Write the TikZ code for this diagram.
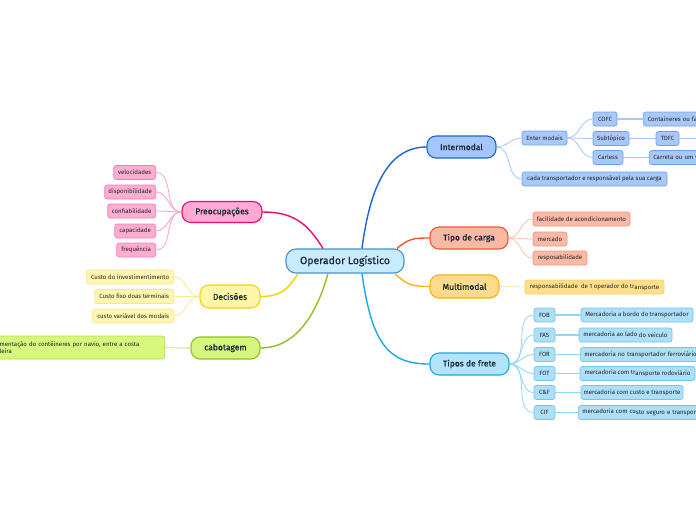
\documentclass[tikz,border=0pt]{standalone}
\usepackage{fontspec}
\setmainfont{Fira Sans}
\newfontfamily\medfont[FakeBold=0.5]{Fira Sans}
\definecolor{cfill}{HTML}{C9ECFC}
\definecolor{cdraw}{HTML}{4A90CF}
\definecolor{ctext}{HTML}{18254A}
\definecolor{bltext}{HTML}{15283A}
\definecolor{lftext}{HTML}{222222}
% blue (intermodal)
\definecolor{bMain}{HTML}{1A66D2}
\definecolor{bFill}{HTML}{A5C6FA}
\definecolor{bLeaf}{HTML}{A9C8FA}
\definecolor{bLeafD}{HTML}{6E9FEE}
\definecolor{bLine}{HTML}{A6C6F6}
% red (tipo de carga)
\definecolor{rMain}{HTML}{F2572A}
\definecolor{rFill}{HTML}{F8B9A6}
\definecolor{rLeafD}{HTML}{F5957A}
\definecolor{rLine}{HTML}{FBC2AE}
% orange (multimodal)
\definecolor{oMain}{HTML}{FBB117}
\definecolor{oFill}{HTML}{FEDB8A}
\definecolor{oLeaf}{HTML}{FEE08C}
\definecolor{oLeafD}{HTML}{FBCD66}
\definecolor{oLine}{HTML}{FDDFA0}
% cyan (frete)
\definecolor{cyMain}{HTML}{18A8EE}
\definecolor{cyFill}{HTML}{B3E4FB}
\definecolor{cyLeaf}{HTML}{ADDFF8}
\definecolor{cyLeafD}{HTML}{74C6EF}
\definecolor{cyLine}{HTML}{93D5F5}
% pink
\definecolor{pMain}{HTML}{EE0A70}
\definecolor{pFill}{HTML}{FFAAD2}
\definecolor{pLeaf}{HTML}{FDADD1}
\definecolor{pLeafD}{HTML}{F57DB6}
\definecolor{pLine}{HTML}{FB9FCB}
% yellow
\definecolor{yMain}{HTML}{F2D400}
\definecolor{yFill}{HTML}{FFF6A8}
\definecolor{yLeaf}{HTML}{FFF6B2}
\definecolor{yLeafD}{HTML}{F8E58A}
\definecolor{yLine}{HTML}{F9EA8E}
% green
\definecolor{gMain}{HTML}{8EC31C}
\definecolor{gFill}{HTML}{D5F57E}
\definecolor{gLeaf}{HTML}{D7F87C}
\definecolor{gLeafD}{HTML}{B3DD4C}
\definecolor{gLine}{HTML}{DDF0B0}
\newcommand{\lfont}{\fontsize{6.1}{7.6}\selectfont}
\newcommand{\bfontx}{\medfont\fontsize{8.5}{10}\selectfont}
\newcommand{\cfontx}{\medfont\fontsize{10.5}{12}\selectfont}
\newcommand{\lw}[1]{\raisebox{-1.2pt}{#1}}
\begin{document}
\begin{tikzpicture}[x=1pt,y=-1pt,
  cnode/.style={draw=cdraw, fill=cfill, text=ctext, line width=1.1pt, rounded corners=10pt, inner sep=0pt, font=\cfontx},
  bnode/.style={line width=1.1pt, rounded corners=9pt, inner sep=0pt, text=bltext, font=\bfontx},
  lnode/.style={line width=0.7pt, rounded corners=2.5pt, inner xsep=2pt, inner ysep=0pt, minimum height=14pt, text=lftext, font=\lfont},
  mline/.style={line width=1.4pt},
  sline/.style={line width=0.8pt},
  hline/.style={line width=1.6pt}
]
\useasboundingbox (0,0) rectangle (696,520);
\clip (0,0) rectangle (696,520);
\fill[white] (0,0) rectangle (696,520);

% ---------- central and main branches ----------
\node[cnode, minimum width=118pt, minimum height=24pt] (op) at (345,261) {Operador Logístico};

\node[bnode, draw=bMain, fill=bFill, minimum width=69pt, minimum height=22pt] (inter) at (461.5,147) {Intermodal};
\node[bnode, draw=rMain, fill=rFill, minimum width=78pt, minimum height=22pt] (carga) at (469,238) {Tipo de carga};
\node[bnode, draw=oMain, fill=oFill, minimum width=69pt, minimum height=23pt] (multi) at (464.5,286.5) {Multimodal};
\node[bnode, draw=cyMain, fill=cyFill, minimum width=79pt, minimum height=22pt] (frete) at (469.5,364) {Tipos de frete};
\node[bnode, draw=pMain, fill=pFill, minimum width=80pt, minimum height=21pt] (pre) at (222,212) {Preocupações};
\node[bnode, draw=yMain, fill=yFill, minimum width=60pt, minimum height=23pt] (dec) at (230,296.5) {Decisões};
\node[bnode, draw=gMain, fill=gFill, minimum width=69pt, minimum height=22pt] (cab) at (225.5,348) {cabotagem};

% main connectors
\draw[mline, bMain] ([xshift=17pt]op.north) .. controls +(8,-62) and +(-38,0) .. (inter.west);
\draw[mline, rMain] ([xshift=52pt]op.north) .. controls +(12,-10) and +(-16,0) .. (carga.west);
\draw[mline, oMain] ([xshift=50pt]op.south) .. controls +(12,12) and +(-16,0) .. (multi.west);
\draw[mline, cyMain] ([xshift=17pt]op.south) .. controls +(10,72) and +(-40,0) .. (frete.west);
\draw[mline, pMain] ([xshift=-22pt]op.north) .. controls +(-16,-26) and +(30,0) .. (pre.east);
\draw[mline, yMain] ([xshift=-47pt]op.south) .. controls +(-10,16) and +(20,0) .. (dec.east);
\draw[mline, gMain] ([xshift=-17pt]op.south) .. controls +(-14,50) and +(30,0) .. (cab.east);

% ---------- Intermodal ----------
\begin{scope}[every node/.style={lnode, draw=bLeafD, fill=bLeaf}]
\node[minimum width=45pt] (em) at (544.5,138) {Enter modais};
\node[minimum width=145pt] (cada) at (594.5,179) {cada transportador e responsável pela sua carga};
\node[minimum width=24pt] (cofc) at (605,119) {COFC};
\node[minimum width=36pt] (subt) at (611,138.5) {Subtópico};
\node[minimum width=30pt] (carl) at (608,157.5) {Carless};
\node[minimum width=23pt] (tofc) at (667.5,138.5) {TOFC};
\node[anchor=west, inner xsep=4.5pt, text width=80pt, align=left] (cont) at (643,119) {Containeres ou fa};
\node[anchor=west, inner xsep=4pt, text width=80pt, align=left] (carr) at (649,157.5) {Carreta ou um v};
\end{scope}
\coordinate (tofcend) at (700,138.5);
\draw[sline, bLine] (inter.east) to[out=0,in=180] (em.west);
\draw[sline, bLine] (inter.east) to[out=0,in=180] (cada.west);
\draw[sline, bLine] (em.east) to[out=0,in=180] (cofc.west);
\draw[sline, bLine] (em.east) to[out=0,in=180] (subt.west);
\draw[sline, bLine] (em.east) to[out=0,in=180] (carl.west);
\draw[hline, bLine] (cofc.east) -- (cont.west);
\draw[hline, bLine] (subt.east) -- (tofc.west);
\draw[hline, bLine] (tofc.east) -- (tofcend);
\draw[hline, bLine] (carl.east) -- (carr.west);

% ---------- Tipo de carga ----------
\begin{scope}[every node/.style={lnode, draw=rLeafD, fill=rFill}]
\node[minimum width=97pt] (fac) at (581.5,219) {facilidade de acondicionamento};
\node[minimum width=34pt] (merc) at (550,239) {mercado};
\node[minimum width=54pt] (resp) at (560,258) {resposabilidade};
\end{scope}
\draw[sline, rLine] (carga.east) to[out=0,in=180] (fac.west);
\draw[sline, rLine] (carga.east) to[out=0,in=180] (merc.west);
\draw[sline, rLine] (carga.east) to[out=0,in=180] (resp.west);

% ---------- Multimodal ----------
\node[lnode, draw=oLeafD, fill=oLeaf, minimum width=139pt] (mleaf) at (594.5,287) {responsabilidade\ \ de 1 operador do tr\lw{ansporte}};
\draw[sline, oLine] (multi.east) -- (mleaf.west);

% ---------- Tipos de frete ----------
\begin{scope}[every node/.style={lnode, draw=cyLeafD, fill=cyLeaf}]
\node[minimum width=21pt] (fob) at (544.5,315) {FOB};
\node[minimum width=21pt] (fas) at (544.5,335) {FAS};
\node[minimum width=21pt] (for) at (544.5,354.5) {FOR};
\node[minimum width=21pt] (fot) at (544.5,373.5) {FOT};
\node[minimum width=21pt] (cf) at (544.5,392.5) {C\&F};
\node[minimum width=21pt] (cif) at (544.5,412.5) {CIF};
\node[minimum width=112pt] (fobl) at (637,315) {Mercadoria a bordo do transportador};
\node[minimum width=93pt] (fasl) at (625.5,335) {mercadoria ao lado \lw{do veiculo}};
\node[anchor=west, inner xsep=4pt, text width=125pt, align=left] (forl) at (580,354.5) {mercadoria no transportador ferroviário};
\node[minimum width=115pt] (fotl) at (637.5,373.5) {mercadoria com tr\lw{ansporte rodoviário}};
\node[minimum width=102pt] (cfl) at (632,392.5) {mercadoria com custo e transporte};
\node[anchor=west, inner xsep=4pt, text width=125pt, align=left] (cifl) at (578,412.5) {mercadoria com cu\lw{sto seguro e transpor}};
\end{scope}
\foreach \n in {fob,fas,for,fot,cf,cif}{
  \draw[sline, cyLine] (frete.east) to[out=0,in=180] (\n.west);
}
\draw[hline, cyLine] (fob.east) -- (fobl.west);
\draw[hline, cyLine] (fas.east) -- (fasl.west);
\draw[hline, cyLine] (for.east) -- (forl.west);
\draw[hline, cyLine] (fot.east) -- (fotl.west);
\draw[hline, cyLine] (cf.east) -- (cfl.west);
\draw[hline, cyLine] (cif.east) -- (cifl.west);

% ---------- Preocupacoes ----------
\begin{scope}[every node/.style={lnode, draw=pLeafD, fill=pLeaf, anchor=east}]
\node[minimum width=42pt] (vel) at (156,172.5) {velocidades};
\node[minimum width=51pt] (disp) at (156,192) {disponibilidade};
\node[minimum width=48pt] (conf) at (156,211) {confiabilidade};
\node[minimum width=41pt] (capa) at (156,231) {capacidade};
\node[minimum width=39pt] (freq) at (156,250) {frequência};
\end{scope}
\foreach \n in {vel,disp,conf,capa,freq}{
  \draw[sline, pLine] (pre.west) to[out=180,in=0] (\n.east);
}

% ---------- Decisoes ----------
\begin{scope}[every node/.style={lnode, draw=yLeafD, fill=yLeaf, anchor=east}]
\node[minimum width=87pt] (d1) at (174,277) {Custo do investimentimento};
\node[minimum width=79pt] (d2) at (174,296.5) {Custo fixo doas terminais};
\node[minimum width=81pt] (d3) at (174,316) {custo variável dos modais};
\end{scope}
\foreach \n in {d1,d2,d3}{
  \draw[sline, yLine] (dec.west) to[out=180,in=0] (\n.east);
}

% ---------- cabotagem ----------
\node[lnode, draw=gLeafD, fill=gLeaf, anchor=east, inner xsep=4pt, text width=161pt, align=left, minimum height=23pt] (cabl) at (165,347.5) {mentação do contêineres por navio, entre a costa\\leira};
\draw[hline, gLine] (cab.west) -- (cabl.east);
\end{tikzpicture}
\end{document}
